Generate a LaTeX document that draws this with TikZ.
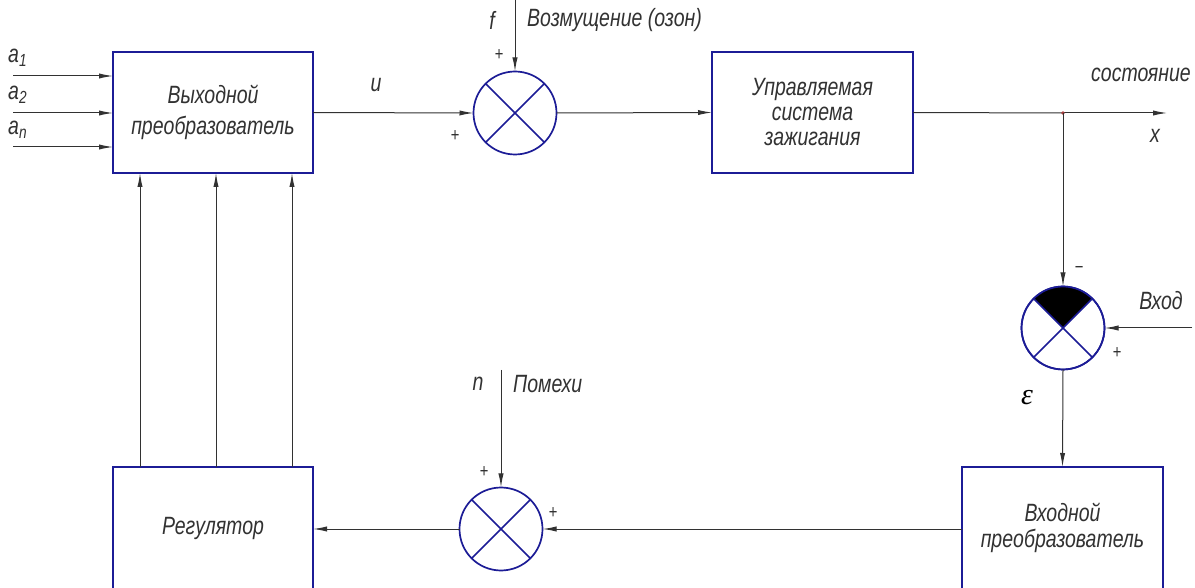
\documentclass[tikz,border=0pt]{standalone}
\usepackage{fontspec}
\newfontfamily\gost{Liberation Sans}[FakeStretch=0.78]
\newfontfamily\greekit{Liberation Serif}
\usetikzlibrary{arrows.meta,calc}

\definecolor{boxblue}{RGB}{28,28,150}
\definecolor{lineg}{RGB}{50,50,50}
\definecolor{textg}{RGB}{50,50,50}
\definecolor{dotred}{RGB}{170,60,60}

\newcommand{\gostfont}{\gost\itshape\fontsize{25}{28}\selectfont}
\newcommand{\signfont}{\gost\itshape\fontsize{19}{21}\selectfont}

\tikzset{
  block/.style={draw=boxblue, line width=1.6pt, minimum width=200pt,
    minimum height=121pt, align=center, inner sep=0pt, outer sep=0pt,
    text=textg, font=\gostfont},
  sum/.style={circle, draw=boxblue, line width=1.7pt, minimum size=83pt,
    inner sep=0pt, outer sep=0pt},
  cross/.style={draw=boxblue, line width=1.7pt},
  conn/.style={draw=lineg, line width=1pt,
    -{Latex[length=14pt, width=5.2pt]}},
  plain/.style={draw=lineg, line width=1pt},
  lab/.style={text=textg, font=\gostfont, inner sep=0pt},
  sign/.style={text=textg, font=\signfont, inner sep=0pt}
}

\begin{document}
\begin{tikzpicture}[x=1pt, y=1pt]
\useasboundingbox (0,0) rectangle (1195,587);
\fill[white] (0,0) rectangle (1195,587);
\clip (0,0) rectangle (1195,587);

% blocks
\node[block, font=\gost\itshape\fontsize{25}{31}\selectfont] (b1) at (213,474.5)
  {Выходной\\преобразователь};
\node[block, minimum width=201pt, font=\gost\itshape\fontsize{25}{25}\selectfont] (b2) at (812.5,474.5)
  {Управляемая\\система\\зажигания};
\node[block, minimum width=201pt, minimum height=122pt, font=\gost\itshape\fontsize{25}{26}\selectfont] (b3) at (1062.5,59)
  {Входной\\преобразователь};
\node[block, minimum height=122pt] (b4) at (213,59) {Регулятор};

% summing junctions
\node[sum] (s1) at (515,474) {};
\draw[cross] (s1.45) -- (s1.225) (s1.135) -- (s1.315);

\node[sum] (s2) at (1063,259) {};
\fill[black] (s2.center) -- (s2.45) arc[start angle=45, end angle=135, radius=41.5pt] -- cycle;
\draw[cross] (s2.45) -- (s2.225) (s2.135) -- (s2.315);
\draw[cross] (s2.center) circle[radius=41.5pt];

\node[sum] (s3) at (501,58) {};
\draw[cross] (s3.45) -- (s3.225) (s3.135) -- (s3.315);

% free ends of the signal lines
\coordinate (a1in) at (13,511);
\coordinate (a2in) at (13,474);
\coordinate (anin) at (13,440);
\coordinate (fin) at (515,587);
\coordinate (nin) at (501,217);
\coordinate (jn) at (1063,474);
\coordinate (xout) at (1167,474);
\coordinate (vin) at (1192,259);

% inputs of the output converter
\draw[conn] (a1in) -- (a1in -| b1.west);
\draw[conn] (a2in) -- (a2in -| b1.west);
\draw[conn] (anin) -- (anin -| b1.west);

% forward path
\draw[conn] (b1.east) -- (s1.west);
\draw[conn] (fin) -- (s1.north);
\draw[conn] (s1.east) -- (b2.west);
\draw[plain] (b2.east) -- (jn);
\draw[conn] (jn) -- (xout);
\fill[dotred] (jn) circle[radius=1.8pt];

% feedback path
\draw[conn] (jn) -- (s2.north);
\draw[conn] (vin) -- (s2.east);
\draw[conn] (s2.south) -- (b3.north);
\draw[conn] (b3.west |- s3) -- (s3.east);
\draw[conn] (nin) -- (s3.north);
\draw[conn] (s3.west) -- (b4.east |- s3);

% regulator outputs
\foreach \dx in {27,103,179}
  \draw[conn] ($(b4.north west)+(\dx,0)$) -- ($(b1.south west)+(\dx,0)$);

% labels
\node[lab, anchor=west] (la1) at (8,529) {a\textsubscript{1}};
\node[lab, anchor=west] (la2) at (8,492) {a\textsubscript{2}};
\node[lab, anchor=west] (lan) at (8,457) {a\textsubscript{n}};
\node[lab] (lu) at (376,502) {u};
\node[lab] (lf) at (492,567) {f};
\node[lab, anchor=west] (lfd) at (527,567) {Возмущение (озон)};
\node[sign] (p1) at (499,532) {+};
\node[sign] (p2) at (455,451) {+};
\node[lab] (lst) at (1141,512) {состояние};
\node[lab] (lx) at (1155,451) {x};
\node[sign] (m1) at (1079,317) {−};
\node[lab] (lvh) at (1161,286) {Вход};
\node[sign] (p3) at (1117,234) {+};
\node[inner sep=0pt, font=\greekit\itshape\fontsize{30}{32}\selectfont] (leps) at (1027,189) {ε};
\node[lab] (ln) at (478,203) {n};
\node[lab, anchor=west] (lpm) at (513,203) {Помехи};
\node[sign] (p4) at (484,115) {+};
\node[sign] (p5) at (553,74) {+};
\end{tikzpicture}
\end{document}
